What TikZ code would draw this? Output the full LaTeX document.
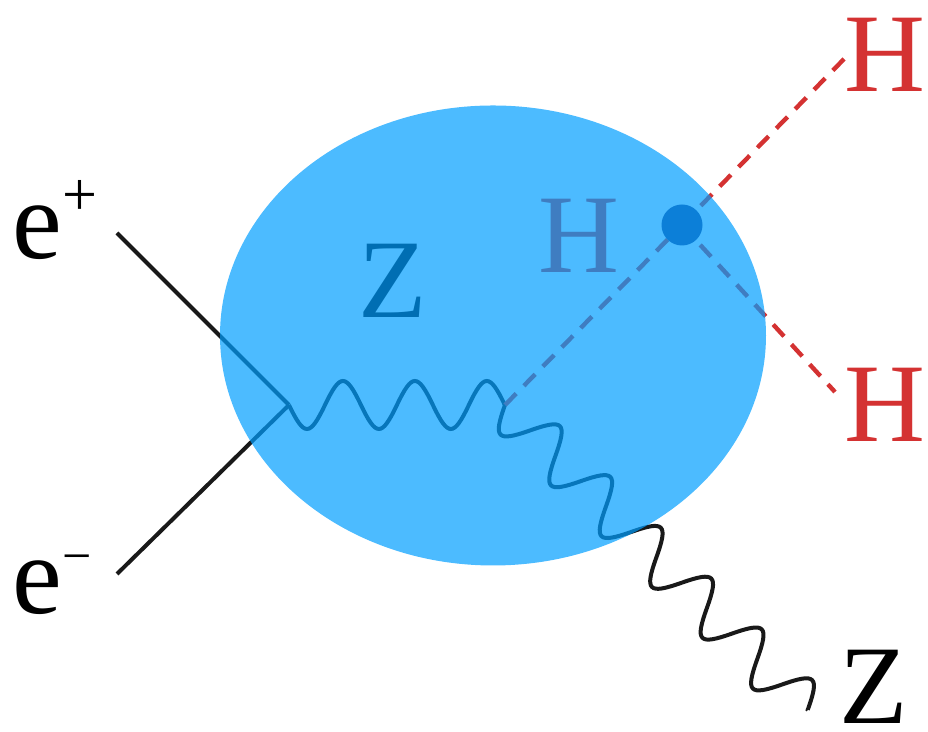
\documentclass[tikz,border=0pt]{standalone}
\usepackage{fontspec}
\setmainfont{Liberation Serif}
\usetikzlibrary{decorations}
\definecolor{blobblue}{RGB}{0,158,255}
\definecolor{dotblue}{RGB}{12,127,216}
\definecolor{hred}{RGB}{212,50,50}
\pgfdeclaredecoration{photonwave}{down}{
  \state{down}[width=0.5\pgfdecorationsegmentlength, next state=up]{
    \pgfpathcurveto
      {\pgfpoint{0.2122\pgfdecorationsegmentlength}{-1.3333\pgfdecorationsegmentamplitude}}
      {\pgfpoint{0.2878\pgfdecorationsegmentlength}{-1.3333\pgfdecorationsegmentamplitude}}
      {\pgfpoint{0.5\pgfdecorationsegmentlength}{0pt}}
  }
  \state{up}[width=0.5\pgfdecorationsegmentlength, next state=down]{
    \pgfpathcurveto
      {\pgfpoint{0.2122\pgfdecorationsegmentlength}{1.3333\pgfdecorationsegmentamplitude}}
      {\pgfpoint{0.2878\pgfdecorationsegmentlength}{1.3333\pgfdecorationsegmentamplitude}}
      {\pgfpoint{0.5\pgfdecorationsegmentlength}{0pt}}
  }
  \state{final}{\pgfpathlineto{\pgfpointdecoratedpathlast}}
}
\begin{document}
\begin{tikzpicture}[x=0.5pt,y=0.5pt,
  fermion/.style={line width=2pt, black!90},
  boson/.style={line width=2pt, black!90, decorate, decoration={photonwave, amplitude=12pt, segment length=#1}},
  scalar/.style={line width=2.2pt, hred, dash pattern=on 8pt off 5.5pt},
  lab/.style={inner sep=0pt, anchor=base, font=\fontsize{56}{56}\selectfont},
]
\useasboundingbox (0,0) rectangle (928,732);
\coordinate (P) at (117,499);
\coordinate (M) at (117,158);
\coordinate (V) at (289,327);
\coordinate (W) at (505,327);
\coordinate (ZE) at (808,22);
\coordinate (HTe) at (845,674);
\coordinate (HBe) at (835,340);
\coordinate (D) at (682,507);
\draw[fermion] (P) -- (V);
\draw[fermion] (M) -- (V);
\draw[boson=35.97pt] (V) -- (W);
\draw[boson=35.8pt] (W) -- (ZE);
\draw[scalar] (W) -- (D);
\draw[scalar] (D) -- (HTe);
\draw[scalar] (D) -- (HBe);
\node[lab, text=hred] (Hin) at (578.5,459) {H};
\node[lab] (Zin) at (392.5,414) {Z};
\fill[blobblue, opacity=0.7] (493,396.5) ellipse [x radius=136.5pt, y radius=115pt];
\node[circle, fill=dotblue, inner sep=0pt, minimum size=20.5pt] (dot) at (D) {};
\node[lab, text=hred] (Htop) at (885,640) {H};
\node[lab, text=hred] (Hbot) at (885,290) {H};
\node[lab] (Zout) at (873.5,8) {Z};
\node[lab, anchor=base west] (ep) at (12,473) {e\raisebox{21.75pt}{\fontsize{31}{31}\selectfont +}};
\node[lab, anchor=base west] (em) at (12,118) {e\raisebox{20.25pt}{\fontsize{26}{26}\selectfont −}};
\end{tikzpicture}
\end{document}
